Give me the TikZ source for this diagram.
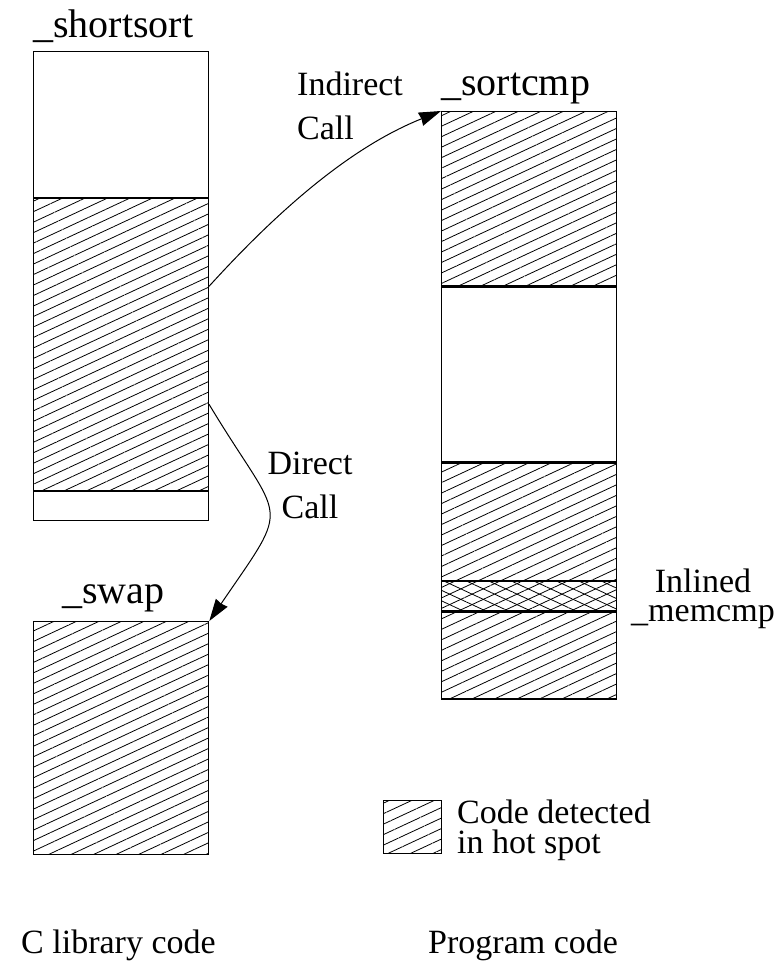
\documentclass[tikz,border=0pt]{standalone}
\usepackage{fontspec}
\setmainfont{Liberation Serif}
\usetikzlibrary{positioning}
\usetikzlibrary{patterns.meta}
\usetikzlibrary{arrows.meta}
\tikzset{%
  callarrow/.style = {-{Stealth[length=22pt,width=14pt,inset=1pt]},line width=1pt},
  blank/.style = {rectangle,draw,line width=1.3pt,minimum width=175pt,
        inner sep=0pt,anchor=north west},
  hot/.style = {blank,pattern={Lines[angle=25,distance=9.5pt,line width=0.8pt]}},
  inl/.style = {hot,postaction={pattern={Lines[angle=-25,distance=9.5pt,line width=0.8pt]}}},
  lbl/.style = {font=\fontsize{40}{44}\selectfont,inner sep=0pt,anchor=base west},
  txt/.style = {font=\fontsize{34}{44}\selectfont,inner sep=0pt}
}

\begin{document}
\begin{tikzpicture}[x=1pt,y=-1pt]
\useasboundingbox (0,0) rectangle (780,961);
% C library side
\node[blank,minimum height=146pt] (ss1) at (33,51) {};
\node[hot,minimum height=292pt,below=0pt of ss1] (ss2) {};
\node[blank,minimum height=29pt,below=0pt of ss2] (ss3) {};
\node[lbl] (sslbl) at (33,37) {\_shortsort};
\node[hot,minimum height=233pt] (swap) at (33,621) {};
\node[lbl] (swaplbl) at (62,603) {\_swap};
% program side
\node[hot,minimum height=174pt] (sc1) at (441,111) {};
\node[blank,minimum height=175pt,below=0pt of sc1] (sc2) {};
\node[hot,minimum height=117pt,below=0pt of sc2] (sc3) {};
\node[inl,minimum height=29pt,below=0pt of sc3] (sc4) {};
\node[hot,minimum height=87pt,below=0pt of sc4] (sc5) {};
\node[lbl] (sclbl) at (441,95) {\_sortcmp};
\node[txt,align=center,font=\fontsize{34}{29}\selectfont,anchor=base] (memlbl) at (703,621) {Inlined\\\_memcmp};
% calls
\draw[callarrow] ([yshift=-88pt]ss2.north east) .. controls +(70,-77) and +(-90,36) .. (sc1.north west);
\node[txt,align=left,anchor=base west] (icall) at (297,139) {Indirect\\Call};
\draw[callarrow] ([yshift=-206pt]ss2.north east) .. controls +(74,123) and +(84,-123) .. (swap.north east);
\node[txt,align=center,anchor=base] (dcall) at (310,518) {Direct\\Call};
% legend
\node[hot,minimum width=58pt,minimum height=53pt] (key) at (383,800) {};
\node[txt,align=left,font=\fontsize{34}{30}\selectfont,anchor=base west] (keylbl) at (457,853) {Code detected\\in hot spot};
\node[txt,anchor=base west] (clib) at (21,953) {C library code};
\node[txt,anchor=base west] (prog) at (428,953) {Program code};
\end{tikzpicture}
\end{document}
